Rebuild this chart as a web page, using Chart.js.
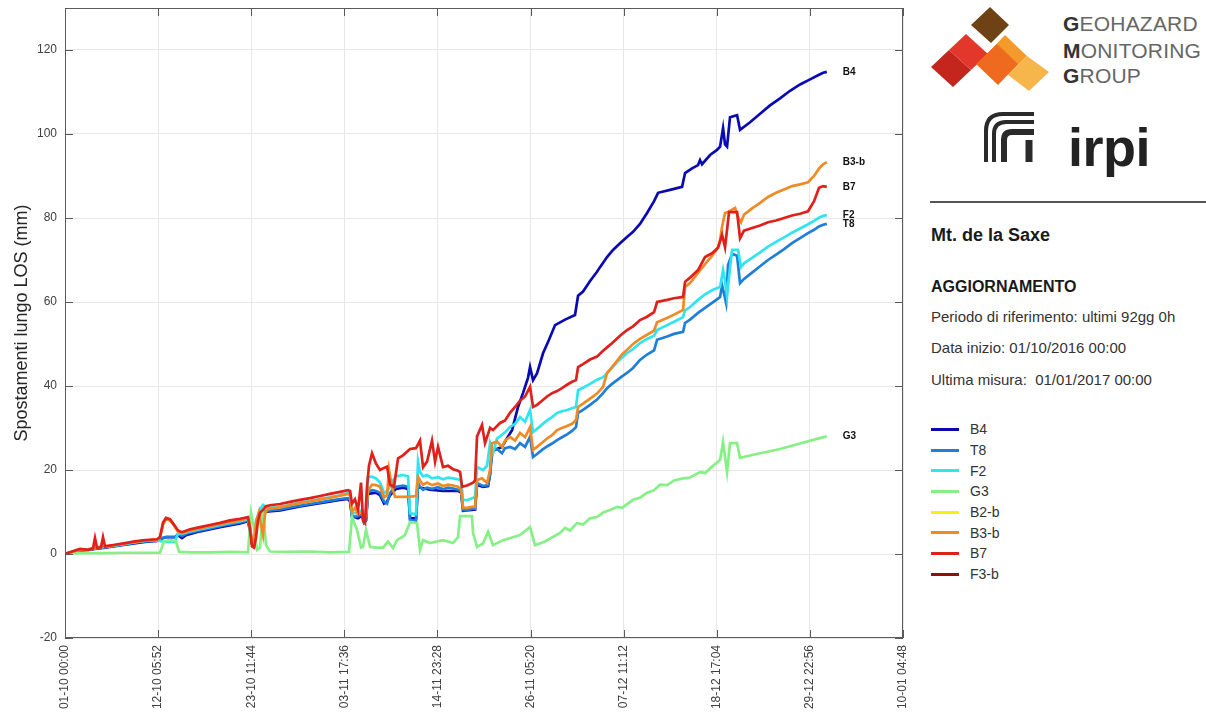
<!DOCTYPE html>
<html>
<head>
<meta charset="utf-8">
<script src="https://cdn.jsdelivr.net/npm/chart.js@4.4.1/dist/chart.umd.min.js"></script>
<style>
  html, body { margin: 0; padding: 0; background: #fff; }
  body { width: 1206px; height: 713px; position: relative; overflow: hidden;
         font-family: "Liberation Sans", Arial, sans-serif; color: #222; }
  #plot { position: absolute; left: 0; top: 0; width: 915px; height: 713px; }
  #side { position: absolute; left: 915px; top: 0; width: 291px; height: 713px; }
  .ghm { position: absolute; left: 148px; font-size: 21px; line-height: 24px; color: #666; letter-spacing: 0.2px; }
  .ghm b { color: #333; }
  .irpi { position: absolute; left: 153px; top: 117px; font-size: 54px; line-height: 60px; font-weight: bold; color: #222; letter-spacing: -0.5px; }
  .rule { position: absolute; left: 15px; top: 201px; width: 276px; height: 2px; background: #555; }
  .txt { position: absolute; left: 16px; white-space: pre; }
  .t1 { top: 224px; font-size: 18px; line-height: 22px; font-weight: bold; color: #1a1a1a; }
  .t2 { top: 277px; font-size: 16px; line-height: 20px; font-weight: bold; color: #1a1a1a; }
  .t3 { font-size: 15px; line-height: 18px; color: #333; }
  #legend { position: absolute; left: 16px; top: 419px; }
  .lg { height: 20.7px; display: flex; align-items: center; font-size: 14px; color: #333; }
  .lg span { display: inline-block; width: 28px; height: 3px; margin-right: 11px; }
</style>
</head>
<body>
<div id="plot"><canvas id="c" width="915" height="713"></canvas></div>
<div id="side">
  <svg width="291" height="200" style="position:absolute;left:0;top:0">
    <!-- Geohazard Monitoring Group mark -->
    <g transform="translate(-915,0)">
      <polygon points="931,67 949,50 971,70 953,87" fill="#c4261d"/>
      <polygon points="949,50 966,34 988,54 971,70" fill="#e2372a"/>
      <polygon points="1005,35 1027,56 1008,75 985,56" fill="#f39a2b"/>
      <polygon points="1027,56 1049,72 1029,91 1008,75" fill="#f7b64c"/>
      <polygon points="997,44 1018,64 998,85 976,64" fill="#ee6a1e"/>
      <polygon points="990,7 1009,25 991,43 971,25" fill="#6e4214"/>
      <!-- irpi symbol -->
      <path d="M 986 162 V 131 Q 986 114 1003 114 H 1034" fill="none" stroke="#2a2a2a" stroke-width="4"/>
      <path d="M 994 162 V 134 Q 994 122 1006 122 H 1034" fill="none" stroke="#2a2a2a" stroke-width="4"/>
      <path d="M 1004 162 V 140 Q 1004 132 1012 132 H 1034" fill="none" stroke="#2a2a2a" stroke-width="6"/>
      <path d="M 1029 140 V 162" fill="none" stroke="#2a2a2a" stroke-width="7"/>
    </g>
  </svg>
  <div class="ghm" style="top:12px"><b>G</b>EOHAZARD</div>
  <div class="ghm" style="top:39px"><b>M</b>ONITORING</div>
  <div class="ghm" style="top:64px"><b>G</b>ROUP</div>
  <div class="irpi">irpi</div>
  <div class="rule"></div>
  <div class="txt t1">Mt. de la Saxe</div>
  <div class="txt t2">AGGIORNAMENTO</div>
  <div class="txt t3" style="top:308px">Periodo di riferimento: ultimi 92gg 0h</div>
  <div class="txt t3" style="top:339px">Data inizio: 01/10/2016 00:00</div>
  <div class="txt t3" style="top:371px">Ultima misura:  01/01/2017 00:00</div>
  <div id="legend"></div>
</div>
<script>
// Time axis: days elapsed since 01-10-2016 00:00; ticks every 11 d 5 h 52 min
const xTickDays = [0, 11.24444, 22.48889, 33.73333, 44.97778, 56.22222, 67.46667, 78.71111, 89.95556, 101.2];
const xTickLabels = ['01-10 00:00', '12-10 05:52', '23-10 11:44', '03-11 17:36', '14-11 23:28',
                     '26-11 05:20', '07-12 11:12', '18-12 17:04', '29-12 22:56', '10-01 04:48'];
const yTickVals = [-20, 0, 20, 40, 60, 80, 100, 120];

const seriesNames  = ['B4', 'T8', 'F2', 'G3', 'B2-b', 'B3-b', 'B7', 'F3-b'];
const seriesColors = ['#0a0ab4', '#1f7fd8', '#30e4f0', '#86f086', '#f2f20a', '#f08a24', '#e0201a', '#8b1010'];
const endLabelled  = ['B4', 'T8', 'F2', 'G3', 'B3-b', 'B7'];

// Cumulative LOS displacement (mm) as [day, mm]
const B4 = [[0,0],[1.81,0.8],[3.62,1.2],[4.83,1.5],[7.25,2.2],[9.66,2.9],[11.11,3.1],[11.71,3.7],[12.20,4.0],[13.29,4.0],[13.65,4.5],[14.13,3.8],[14.61,4.5],[16.30,5.4],[18.72,6.4],[21.14,7.3],[22.10,7.8],[22.34,5.5],[22.58,2.4],[22.83,2.0],[23.07,6.8],[23.55,9.0],[23.91,9.8],[24.28,10.1],[25.97,10.4],[28.38,11.3],[30.80,12.1],[33.21,12.9],[34.18,13.1],[34.42,12.5],[34.66,9.0],[35.39,8.5],[35.87,9.2],[36.11,7.5],[36.35,8.0],[36.59,14.3],[37.56,14.6],[38.04,14.0],[38.53,12.0],[38.89,12.5],[39.25,14.0],[39.98,15.5],[40.82,15.8],[41.43,15.5],[41.67,8.5],[42.39,8.5],[42.63,16.5],[42.87,15.8],[44.08,15.3],[45.65,15.0],[47.46,15.0],[47.83,14.7],[48.07,10.3],[49.52,10.6],[49.76,16.5],[50.48,16.0],[51.09,16.2],[51.33,19.0],[51.57,24.5],[52.17,25.0],[52.78,25.5],[53.38,27.6],[53.99,29.5],[54.71,35.0],[55.31,38.3],[55.92,42.0],[56.16,44.5],[56.52,41.4],[57.00,43.0],[57.73,47.8],[58.45,51.0],[59.18,54.5],[60.39,55.8],[61.59,56.9],[61.96,61.5],[62.56,62.5],[63.41,65.0],[64.25,67.2],[64.61,68.3],[65.46,70.7],[66.18,72.4],[67.03,74.0],[67.87,75.5],[68.60,76.7],[69.44,78.6],[70.29,81.2],[71.14,84.0],[71.62,86.0],[73.07,86.7],[74.52,87.4],[74.88,90.7],[75.72,91.8],[76.45,92.6],[76.69,93.8],[76.93,92.8],[77.90,95.0],[78.74,96.2],[79.11,97.0],[79.47,101.4],[79.71,97.5],[79.95,97.0],[80.31,104.0],[81.16,104.5],[81.52,101.0],[82.73,102.8],[83.94,104.8],[85.14,106.8],[86.35,108.5],[87.56,110.3],[88.77,111.8],[89.98,113.0],[90.94,114.0],[91.55,114.6],[92.0,114.8]];

const T8 = [[0,0],[0.85,0.4],[1.81,0.9],[2.78,1.0],[3.62,1.3],[4.83,1.6],[6.04,1.9],[7.25,2.3],[8.45,2.7],[9.66,3.0],[11.11,3.2],[11.71,3.8],[12.20,4.0],[13.29,4.0],[13.65,4.8],[14.13,4.3],[14.61,4.8],[15.10,5.1],[16.30,5.6],[17.51,6.1],[18.72,6.6],[19.93,7.1],[21.14,7.5],[22.10,8.0],[22.34,6.0],[22.58,2.6],[22.83,2.2],[23.07,7.0],[23.55,9.0],[23.91,9.8],[24.28,10.3],[24.76,10.4],[25.97,10.6],[27.17,11.1],[28.38,11.5],[29.59,11.9],[30.80,12.3],[32.00,12.7],[33.21,13.1],[34.18,13.3],[34.42,13.0],[34.66,8.8],[35.39,9.0],[35.87,9.5],[36.11,7.5],[36.35,8.0],[36.59,14.8],[37.08,15.2],[37.56,15.0],[38.04,14.6],[38.53,12.5],[38.89,12.0],[39.25,14.5],[39.61,15.5],[39.98,16.0],[40.82,16.3],[41.43,16.0],[41.67,8.0],[42.39,7.8],[42.63,17.0],[42.87,16.0],[43.24,15.3],[43.72,15.8],[44.32,15.5],[45.05,15.9],[45.65,15.4],[46.26,15.8],[46.86,15.6],[47.46,15.3],[47.83,15.0],[48.07,10.5],[48.55,10.4],[49.15,10.8],[49.52,10.8],[49.76,16.9],[50.48,16.2],[51.09,16.4],[51.33,19.0],[51.57,24.8],[52.17,25.0],[52.78,24.0],[53.14,25.2],[53.74,25.5],[54.35,25.0],[54.95,26.4],[55.56,25.5],[56.16,27.9],[56.52,23.1],[57.00,23.8],[57.61,24.8],[58.21,25.6],[58.82,26.3],[59.42,27.1],[60.02,27.8],[60.63,28.5],[61.23,29.3],[61.71,30.2],[61.96,33.6],[62.56,34.3],[63.41,35.5],[64.25,36.8],[64.98,38.3],[65.46,39.5],[66.06,40.5],[66.67,41.4],[67.27,42.3],[67.87,43.1],[68.60,44.3],[69.44,46.2],[70.29,47.5],[71.14,48.5],[71.50,51.0],[72.71,51.8],[73.55,52.4],[74.64,52.9],[74.88,55.0],[75.48,55.8],[76.45,57.4],[77.29,58.6],[78.14,59.8],[78.86,60.8],[79.11,61.2],[79.35,64.0],[79.59,62.0],[79.83,59.8],[80.07,68.8],[80.56,71.5],[81.16,71.0],[81.52,64.5],[82.00,65.5],[82.97,67.0],[83.94,68.5],[84.90,70.0],[85.87,71.3],[86.84,72.6],[87.80,74.0],[88.77,75.2],[89.73,76.4],[90.46,77.2],[91.06,78.0],[91.55,78.4],[92.0,78.6]];

const F2 = [[0,0],[0.85,0.5],[1.81,1.0],[2.78,1.1],[3.62,1.4],[4.83,1.7],[6.04,2.0],[7.25,2.4],[8.45,2.8],[9.66,3.1],[11.11,3.3],[11.71,3.0],[12.20,2.9],[13.29,2.9],[13.65,5.0],[14.13,4.8],[15.10,5.4],[16.30,5.9],[17.51,6.4],[18.72,6.9],[19.93,7.4],[21.14,7.8],[22.10,8.3],[22.34,6.0],[22.58,3.0],[22.83,2.5],[23.07,8.0],[23.55,10.5],[23.91,11.7],[24.28,11.2],[24.76,11.0],[25.97,11.2],[27.17,11.7],[28.38,12.2],[29.59,12.6],[30.80,13.1],[32.00,13.5],[33.21,14.0],[34.18,14.5],[34.42,14.8],[34.66,9.7],[35.39,9.8],[35.87,10.5],[36.11,8.5],[36.35,9.5],[36.59,18.3],[37.08,18.4],[37.56,18.0],[38.04,17.0],[38.53,14.5],[38.89,15.0],[39.25,16.0],[39.61,17.5],[39.98,18.5],[40.82,18.8],[41.43,18.5],[41.67,9.7],[42.39,9.5],[42.63,22.0],[42.87,19.5],[43.24,18.5],[43.72,18.8],[44.32,18.0],[45.05,18.3],[45.65,17.8],[46.26,18.2],[46.86,18.0],[47.46,17.8],[47.83,17.5],[48.07,12.9],[48.55,12.8],[49.15,13.3],[49.52,13.6],[49.76,20.7],[50.48,20.0],[50.97,21.0],[51.33,26.4],[51.69,24.0],[52.17,27.5],[52.54,28.0],[53.14,29.0],[53.74,30.2],[54.35,31.0],[54.95,32.6],[55.56,31.5],[56.16,34.3],[56.52,29.0],[57.00,29.8],[57.61,30.8],[58.21,31.8],[58.82,32.6],[59.42,33.6],[60.02,34.0],[60.63,34.3],[61.23,34.7],[61.71,35.0],[61.96,39.0],[62.56,39.6],[63.41,40.5],[64.25,41.5],[64.98,42.1],[65.46,43.0],[66.06,44.3],[66.67,45.7],[67.27,46.8],[67.87,47.8],[68.60,48.8],[69.44,50.2],[70.29,51.2],[71.14,52.0],[71.50,53.3],[72.71,54.5],[73.55,55.3],[74.64,56.4],[74.88,58.0],[75.48,58.8],[76.45,60.5],[77.29,61.8],[78.14,62.8],[78.86,63.4],[79.11,63.6],[79.47,67.6],[79.71,65.0],[79.95,61.2],[80.19,66.0],[80.56,72.4],[81.28,72.4],[81.64,68.3],[82.00,69.2],[82.97,70.5],[83.94,71.8],[84.90,73.2],[85.87,74.3],[86.84,75.4],[87.80,76.5],[88.77,77.5],[89.73,78.5],[90.46,79.3],[91.06,80.1],[91.55,80.5],[92.0,80.7]];

const G3 = [[0,0],[1.81,0.2],[4.83,0.2],[7.25,0.3],[9.66,0.3],[11.47,0.3],[11.96,3.0],[12.68,3.3],[13.41,3.0],[13.77,0.5],[15.10,0.4],[17.51,0.4],[19.93,0.5],[22.10,0.4],[22.46,9.8],[22.83,6.0],[23.19,1.0],[23.55,1.5],[23.91,10.8],[24.28,2.0],[24.76,0.6],[27.17,0.5],[29.59,0.6],[32.00,0.4],[34.30,0.5],[34.66,8.8],[35.27,5.7],[35.75,1.5],[35.99,1.7],[36.35,5.7],[36.84,1.7],[37.56,1.5],[38.41,1.5],[39.01,3.0],[39.61,1.4],[40.10,3.3],[41.06,4.5],[41.67,7.6],[42.51,7.4],[42.87,1.0],[43.24,3.3],[44.08,2.6],[45.65,3.3],[46.86,2.6],[47.46,4.0],[47.71,9.0],[49.15,9.0],[49.28,5.0],[49.76,1.7],[50.48,2.5],[51.09,5.3],[51.69,2.1],[52.90,3.3],[54.11,4.0],[54.95,4.5],[56.16,6.4],[56.76,2.1],[57.97,3.0],[59.78,5.0],[60.39,6.2],[61.00,5.6],[61.84,7.4],[62.56,7.0],[63.41,8.5],[64.25,8.8],[65.00,9.9],[65.82,10.5],[66.67,11.2],[67.27,11.0],[68.60,12.9],[69.44,13.4],[70.29,14.6],[71.14,15.2],[71.86,16.5],[72.71,16.4],[73.55,17.5],[74.64,18.0],[75.48,18.2],[76.69,19.5],[77.29,19.3],[78.14,20.8],[79.11,22.4],[79.47,26.7],[79.95,19.5],[80.31,26.4],[81.16,26.4],[81.52,22.9],[83.94,24.0],[86.35,25.0],[88.77,26.3],[90.58,27.3],[92.0,28.0]];

const B2b = [];

const B3b = [[0,0],[0.85,0.5],[1.81,1.0],[2.78,1.1],[3.62,1.5],[4.83,1.8],[6.04,2.1],[7.25,2.5],[8.45,2.9],[9.66,3.2],[11.11,3.4],[11.47,4.0],[11.84,7.0],[12.20,8.3],[12.68,8.0],[13.16,6.8],[13.65,5.3],[14.13,5.0],[15.10,5.6],[16.30,6.1],[17.51,6.6],[18.72,7.1],[19.93,7.6],[21.14,8.0],[22.10,8.5],[22.34,6.5],[22.58,3.0],[22.83,2.5],[23.07,7.5],[23.43,10.0],[23.67,7.0],[23.91,4.5],[24.15,9.5],[24.40,10.6],[24.76,10.8],[25.97,11.1],[27.17,11.6],[28.38,12.1],[29.59,12.5],[30.80,13.0],[32.00,13.4],[33.21,13.9],[34.18,14.3],[34.42,14.0],[34.66,10.0],[35.02,11.0],[35.39,9.5],[35.87,10.0],[36.11,8.5],[36.35,9.0],[36.59,15.2],[37.08,16.5],[37.56,16.4],[38.04,16.0],[38.53,13.5],[38.89,14.0],[39.13,20.0],[39.49,16.0],[39.86,13.6],[41.43,13.6],[42.39,13.8],[42.63,18.4],[42.87,17.5],[43.24,16.5],[43.72,17.0],[44.32,16.4],[45.05,16.8],[45.65,16.2],[46.26,16.5],[46.86,16.3],[47.46,16.0],[47.83,15.5],[48.07,11.0],[48.55,11.0],[49.15,11.2],[49.52,11.2],[49.76,17.6],[50.36,18.0],[50.97,16.9],[51.33,20.0],[51.57,26.4],[52.17,26.8],[52.78,25.5],[53.14,27.0],[53.74,27.9],[54.35,27.0],[54.95,28.8],[55.56,27.8],[56.16,30.2],[56.52,24.8],[57.00,25.5],[57.61,26.5],[58.21,27.5],[58.82,28.3],[59.42,29.5],[60.02,30.0],[60.63,30.5],[61.23,31.0],[61.71,31.9],[61.96,35.0],[62.56,35.8],[63.41,37.0],[64.25,38.2],[64.98,39.8],[65.46,43.1],[66.06,44.5],[66.67,46.0],[67.27,47.5],[67.87,48.6],[68.60,50.0],[69.44,51.2],[70.29,52.2],[71.14,53.2],[71.50,55.2],[72.71,56.2],[73.55,57.0],[74.64,58.1],[74.88,63.6],[75.48,64.5],[76.45,66.9],[77.29,69.0],[78.14,71.0],[78.86,73.0],[79.11,74.8],[79.35,77.9],[79.71,81.2],[80.07,81.4],[80.56,82.0],[80.92,82.4],[81.28,80.2],[81.64,79.0],[82.00,80.8],[82.97,82.3],[83.94,83.6],[84.90,85.0],[85.87,86.0],[86.84,86.8],[87.80,87.6],[88.77,88.0],[89.73,88.5],[90.46,90.0],[91.06,91.8],[91.55,92.8],[92.0,93.3]];

const B7 = [[0,0],[0.85,0.6],[1.81,1.2],[2.78,1.0],[3.38,1.3],[3.62,3.8],[3.86,1.5],[4.35,1.6],[4.59,4.0],[4.83,1.8],[6.04,2.2],[7.25,2.6],[8.45,3.0],[9.66,3.3],[11.11,3.5],[11.47,4.0],[11.84,7.5],[12.20,8.6],[12.68,8.3],[13.16,7.0],[13.65,5.6],[14.13,5.2],[15.10,5.9],[16.30,6.4],[17.51,6.9],[18.72,7.4],[19.93,8.0],[21.14,8.4],[22.10,8.8],[22.34,6.0],[22.58,1.8],[22.83,1.5],[23.07,4.0],[23.31,8.0],[23.55,9.8],[23.91,10.5],[24.28,11.4],[24.76,11.6],[25.97,11.9],[27.17,12.4],[28.38,12.9],[29.59,13.3],[30.80,13.8],[32.00,14.3],[33.21,14.8],[34.18,15.2],[34.42,15.0],[34.66,12.0],[35.02,13.0],[35.39,10.5],[35.75,17.0],[35.99,8.0],[36.23,7.4],[36.47,16.0],[36.71,21.0],[37.08,24.0],[37.56,21.5],[38.04,20.0],[38.53,20.5],[38.89,20.8],[39.25,16.5],[39.73,16.0],[40.22,22.8],[40.82,23.5],[41.67,25.0],[42.39,25.2],[42.87,27.0],[43.24,20.7],[43.72,22.0],[44.32,27.0],[44.69,22.0],[45.05,25.5],[45.65,20.7],[46.26,21.0],[46.86,20.2],[47.46,19.8],[47.71,19.5],[47.95,16.0],[48.55,16.3],[49.28,17.0],[49.52,17.5],[49.76,28.0],[50.36,30.7],[50.72,26.4],[51.33,30.0],[51.69,29.5],[52.54,31.2],[53.14,31.8],[53.74,33.6],[54.35,35.0],[54.95,36.5],[55.56,37.5],[56.16,39.8],[56.52,35.0],[57.00,35.5],[57.61,36.5],[58.21,37.5],[58.82,38.3],[59.42,38.8],[60.02,39.5],[60.63,40.3],[61.23,41.0],[61.71,41.4],[61.96,44.5],[62.56,45.2],[63.41,46.3],[64.25,47.0],[64.98,48.4],[65.46,49.2],[66.06,50.2],[66.67,51.3],[67.27,52.4],[67.87,53.3],[68.60,54.2],[69.44,55.7],[70.29,56.5],[71.14,57.6],[71.50,60.0],[72.71,60.5],[73.55,60.9],[74.64,61.2],[74.88,64.8],[75.48,65.8],[76.45,67.6],[77.29,70.7],[78.14,71.6],[78.86,72.9],[79.35,76.0],[79.71,73.0],[80.19,81.4],[81.16,81.4],[81.52,75.2],[82.00,77.0],[82.97,77.6],[83.94,78.2],[84.90,79.0],[85.87,79.4],[86.84,80.0],[87.80,80.6],[88.77,81.0],[89.73,81.6],[90.46,84.0],[91.06,87.2],[91.55,87.6],[92.0,87.4]];

const F3b = [];

const seriesData = [B4, T8, F2, G3, B2b, B3b, B7, F3b];

const FONT = '"Liberation Sans", Arial, sans-serif';

// side legend
const legendEl = document.getElementById('legend');
seriesNames.forEach((n, i) => {
  const row = document.createElement('div');
  row.className = 'lg';
  const sw = document.createElement('span');
  sw.style.background = seriesColors[i];
  row.appendChild(sw);
  row.appendChild(document.createTextNode(n));
  legendEl.appendChild(row);
});

// axes box with inward tick marks
const boxPlugin = {
  id: 'box',
  afterDraw(chart) {
    const { ctx, chartArea: a, scales: { x, y } } = chart;
    ctx.save();
    ctx.strokeStyle = '#5a5a5a';
    ctx.lineWidth = 1;
    ctx.strokeRect(a.left + 0.5, a.top + 0.5, a.right - a.left - 1, a.bottom - a.top - 1);
    ctx.beginPath();
    xTickDays.forEach(v => {
      const px = Math.round(x.getPixelForValue(v)) + 0.5;
      ctx.moveTo(px, a.bottom); ctx.lineTo(px, a.bottom - 8);
      ctx.moveTo(px, a.top); ctx.lineTo(px, a.top + 8);
    });
    yTickVals.forEach(v => {
      const py = Math.round(y.getPixelForValue(v)) + 0.5;
      ctx.moveTo(a.left, py); ctx.lineTo(a.left + 8, py);
      ctx.moveTo(a.right, py); ctx.lineTo(a.right - 8, py);
    });
    ctx.stroke();
    ctx.restore();
  }
};

// series names next to the last sample of each line
const endLabelPlugin = {
  id: 'endLabels',
  afterDatasetsDraw(chart) {
    const { ctx } = chart;
    ctx.save();
    ctx.font = 'bold 10px ' + FONT;
    ctx.fillStyle = '#111';
    ctx.textBaseline = 'middle';
    chart.data.datasets.forEach((ds, i) => {
      if (!endLabelled.includes(ds.label)) return;
      const meta = chart.getDatasetMeta(i);
      const pt = meta.data[meta.data.length - 1];
      if (pt) ctx.fillText(ds.label, pt.x + 16, pt.y);
    });
    ctx.restore();
  }
};

const datasets = seriesNames.map((n, i) => ({
  label: n,
  data: seriesData[i].map(p => ({ x: p[0], y: p[1] })),
  borderColor: seriesColors[i],
  backgroundColor: seriesColors[i],
  borderWidth: 2.7,
  pointRadius: 0,
  tension: 0,
  fill: false,
  order: seriesNames.length - i
}));

new Chart(document.getElementById('c'), {
  type: 'line',
  data: { datasets },
  options: {
    responsive: false,
    animation: false,
    devicePixelRatio: 1,
    layout: { padding: { top: 8, right: 12, left: 0, bottom: 0 } },
    plugins: { legend: { display: false }, tooltip: { enabled: false } },
    scales: {
      x: {
        type: 'linear',
        min: 0,
        max: xTickDays[xTickDays.length - 1],
        afterBuildTicks: s => { s.ticks = xTickDays.map(v => ({ value: v })); },
        afterFit: s => { s.height = 75; s.paddingLeft = 0; s.paddingRight = 0; },
        ticks: {
          autoSkip: false, maxRotation: 90, minRotation: 90, padding: 7,
          color: '#404040', font: { family: FONT, size: 12 },
          callback: (v, i) => xTickLabels[i]
        },
        grid: { color: '#e8e8e8', drawTicks: false },
        border: { display: false }
      },
      y: {
        min: -20,
        max: 130,
        afterBuildTicks: s => { s.ticks = yTickVals.map(v => ({ value: v })); },
        afterFit: s => { s.width = 65; s.paddingTop = 0; s.paddingBottom = 0; },
        ticks: { padding: 8, color: '#404040', font: { family: FONT, size: 12 } },
        grid: { color: '#e8e8e8', drawTicks: false },
        border: { display: false },
        title: {
          display: true, text: 'Spostamenti lungo LOS (mm)', color: '#262626',
          font: { family: FONT, size: 18 }, padding: { top: 11, bottom: 0 }
        }
      }
    }
  },
  plugins: [boxPlugin, endLabelPlugin]
});
</script>
</body>
</html>
